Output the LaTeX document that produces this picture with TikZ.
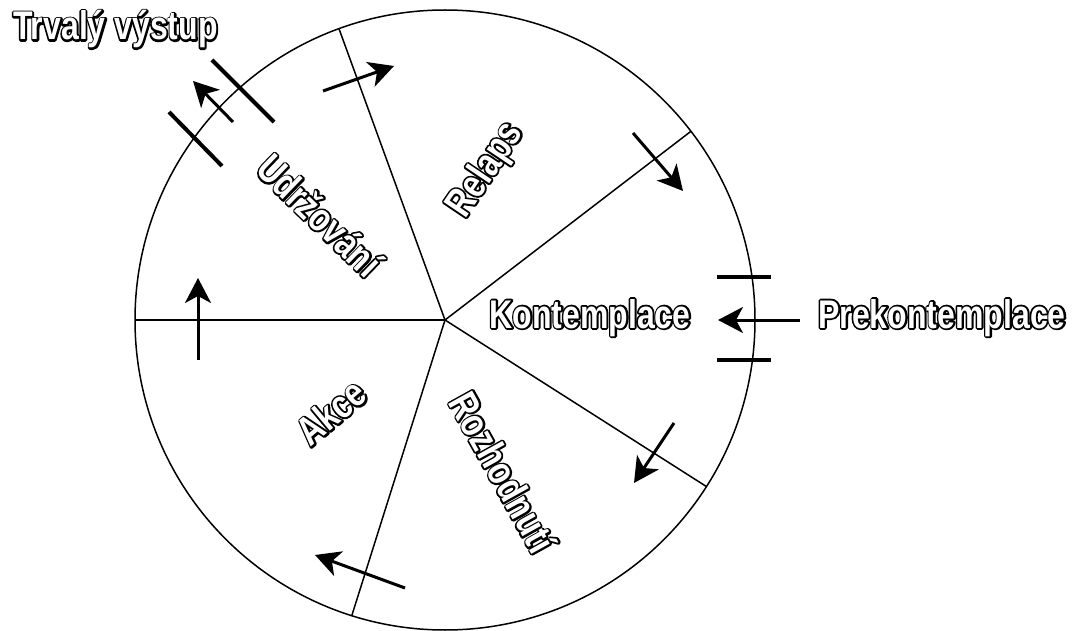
\documentclass[tikz,border=0pt]{standalone}
\usepackage{fontspec}
\usetikzlibrary{arrows.meta}
\newfontfamily\lblfont[FakeStretch=0.8]{Liberation Sans}
% hollow letters: black stroked copy under a white copy
\newcommand{\outl}[1]{\rlap{\special{pdf:literal direct 2 Tr 3.6 w 1 j 0 G 0 g}#1\special{pdf:literal direct 0 Tr 1 g 1 G}}#1}

\begin{document}
\begin{tikzpicture}[x=1pt,y=-1pt,
  lbl/.style={text=white,inner sep=0pt,font=\lblfont\bfseries\fontsize{40}{40}\selectfont},
  rim/.style={line width=1.5pt},
  a/.style={-{Stealth[length=25pt,width=26pt,inset=7pt]},line width=3pt},
  bar/.style={line width=4pt}]
  \useasboundingbox (0,0) rectangle (1085,631);
  \coordinate (c) at (445,320);
  % wheel
  \draw[rim] (c) circle[radius=310];
  \foreach \ang in {180,-110,-37.5,32.5,107.5}
    \draw[rim] (c) -- ++(\ang:310);
  % stage labels
  \node[lbl,anchor=base] (kon) at (590,328) {\outl{Kontemplace}};
  \node[lbl,anchor=base] (pre) at (942,328) {\outl{Prekontemplace}};
  \node[lbl,anchor=base west] (trv) at (13,40) {\outl{Trval\'y v\'ystup}};
  \node[lbl,rotate=-44] (udr) at (320,215) {\outl{Udržování}};
  \node[lbl,rotate=56] (rel) at (486,170) {\outl{Relaps}};
  \node[lbl,rotate=-61] (roz) at (503,472) {\outl{Rozhodnutí}};
  \node[lbl,rotate=40] (akc) at (331,412) {\outl{Akce}};
  % cycle arrows
  \draw[a] (323,91) -- (394,66);
  \draw[a] (633,133) -- (683,191);
  \draw[a] (674,423) -- (634,483);
  \draw[a] (405,588) -- (315,555);
  \draw[a] (198,360) -- (198,278);
  % entry
  \draw[a] (800,320) -- (718,320);
  \draw[bar] (717,277) -- (771,277);
  \draw[bar] (717,360) -- (771,360);
  % exit
  \draw[a] (233,122) -- (193,81);
  \draw[bar] (212,60) -- (274,122);
  \draw[bar] (169,112) -- (222,166);
\end{tikzpicture}
\end{document}
